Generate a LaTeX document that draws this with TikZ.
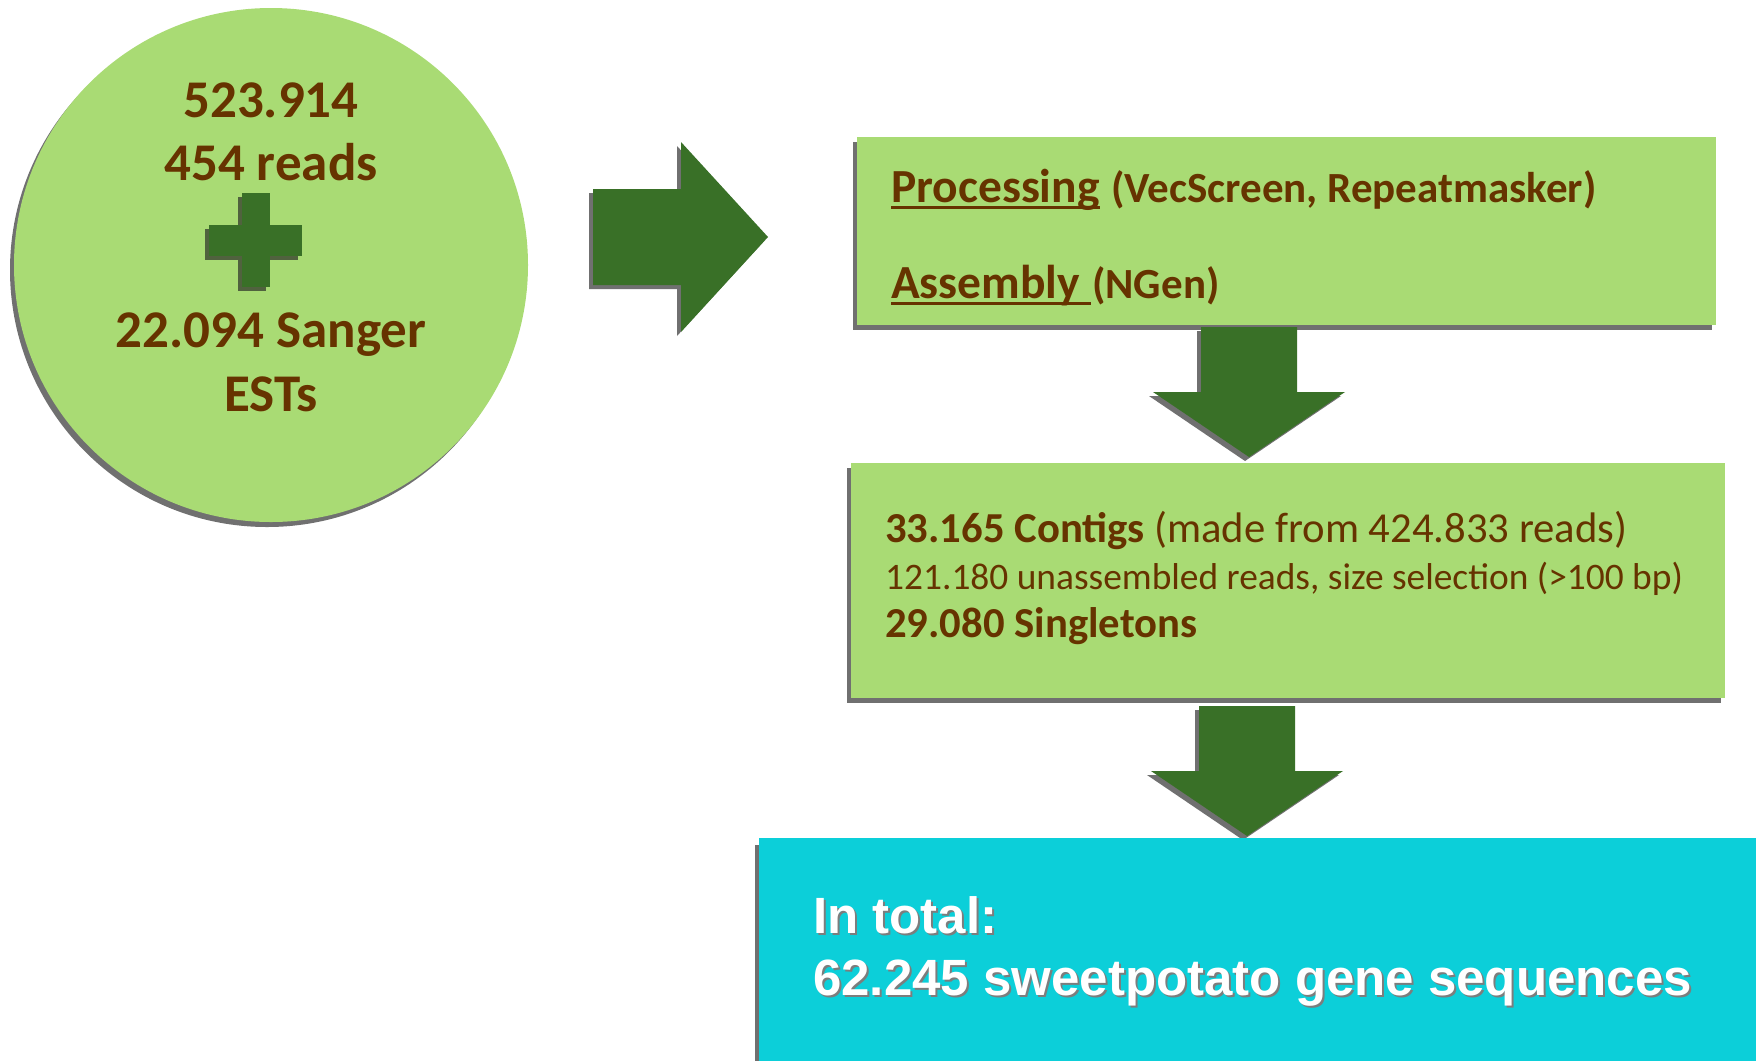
\documentclass[tikz,border=0pt]{standalone}
\usepackage{fontspec}
\setmainfont{Carlito}
\newfontfamily\arialfont{Liberation Sans}
\usetikzlibrary{shadows}
\definecolor{lgreen}{RGB}{169,219,116}
\definecolor{brownt}{RGB}{102,51,0}
\definecolor{dgreen}{RGB}{57,112,39}
\definecolor{shgray}{RGB}{112,112,112}
\definecolor{plusshadow}{RGB}{80,98,62}
\definecolor{cyanbox}{RGB}{12,207,217}
\definecolor{txtshadow}{RGB}{125,125,125}
\tikzset{
  sh/.style={drop shadow={shadow xshift=-4pt, shadow yshift=-5pt, fill=shgray, opacity=1}},
  greenbox/.style={rectangle, fill=lgreen, inner sep=0pt, anchor=north west, sh},
  txt/.style={inner sep=0pt, anchor=base west, text=brownt},
  ctxt/.style={inner sep=0pt, anchor=base, text=brownt, font=\fontsize{53}{64}\selectfont\bfseries},
  pics/downarr/.style={code={
    \fill[shgray] (-52,4) -- (44,4) -- (44,69) -- (92,69) -- (-4,134) -- (-100,69) -- (-52,69) -- cycle;
    \fill[dgreen] (-48,0) -- (48,0) -- (48,65) -- (96,65) -- (0,130) -- (-96,65) -- (-48,65) -- cycle;
  }},
  pics/rightarr/.style={code={
    \fill[shgray] (-4,-44) -- (84,-44) -- (84,-91) -- (171,4) -- (84,99) -- (84,52) -- (-4,52) -- cycle;
    \fill[dgreen] (0,-48) -- (88,-48) -- (88,-95) -- (175,0) -- (88,95) -- (88,48) -- (0,48) -- cycle;
  }}
}
\begin{document}
\begin{tikzpicture}[x=1pt,y=-1pt]
\useasboundingbox (0,0) rectangle (1756,1061);
\fill[white] (0,0) rectangle (1756,1061);

% source circle
\node[circle, fill=lgreen, minimum size=514pt, inner sep=0pt, sh] (src) at (271,265) {};
\node[ctxt] (t1) at (271,117) {523.914};
\node[ctxt] (t2) at (271,180) {454 reads};
\node[ctxt] (t3) at (271,347) {22.094 Sanger};
\node[ctxt] (t4) at (271,411) {ESTs};
% plus sign
\fill[plusshadow] (238,197) rectangle (266,291);
\fill[plusshadow] (205,229) rectangle (298,260);
\fill[dgreen] (242,193) rectangle (270,287);
\fill[dgreen] (209,225) rectangle (302,256);

% right arrow
\pic at (593,237) {rightarr};

% processing box
\node[greenbox, minimum width=859pt, minimum height=188pt] (proc) at (857,137) {};
\node[txt, font=\fontsize{47.5}{56}\selectfont\bfseries] (procw) at (891,202) {Processing};
\draw[brownt, line width=3pt] ([yshift=-5pt]procw.base west) -- ([yshift=-5pt]procw.base east);
\node[txt, font=\fontsize{43}{50}\selectfont\bfseries, anchor=base west] (procp) at ([xshift=11pt]procw.base east) {(VecScreen, Repeatmasker)};
\node[txt, font=\fontsize{47.5}{56}\selectfont\bfseries] (assw) at (891,298) {Assembly\ \null};
\draw[brownt, line width=3pt] ([yshift=-5pt]assw.base west) -- ([yshift=-5pt]assw.base east);
\node[txt, font=\fontsize{43}{50}\selectfont\bfseries, anchor=base west] (assp) at ([xshift=1pt]assw.base east) {(NGen)};

% down arrow 1
\pic at (1249,327) {downarr};

% contigs box
\node[greenbox, minimum width=874pt, minimum height=235pt] (cont) at (851,463) {};
\node[txt, font=\fontsize{42.7}{50}\selectfont] (c1) at (885,542) {\bfseries 33.165 Contigs \mdseries(made from 424.833 reads)};
\node[txt, font=\fontsize{37.4}{45}\selectfont] (c2) at (885,589) {121.180 unassembled reads, size selection (>100 bp)};
\node[txt, font=\fontsize{42.7}{50}\selectfont\bfseries] (c3) at (885,637) {29.080 Singletons};

% down arrow 2
\pic at (1247,706) {downarr};

% total box
\fill[shgray] (755,845) rectangle (1756,1061);
\node[rectangle, fill=cyanbox, inner sep=0pt, anchor=north west, minimum width=997pt, minimum height=223pt] (tot) at (759,838) {};
\node[inner sep=0pt, anchor=base west, text=txtshadow, font=\arialfont\fontsize{51}{60}\selectfont\bfseries] (s1) at (815,935) {In total:};
\node[inner sep=0pt, anchor=base west, text=txtshadow, font=\arialfont\fontsize{51}{60}\selectfont\bfseries] (s2) at (815,997) {62.245 sweetpotato gene sequences};
\node[inner sep=0pt, anchor=base west, text=white, font=\arialfont\fontsize{51}{60}\selectfont\bfseries] (w1) at (813,933) {In total:};
\node[inner sep=0pt, anchor=base west, text=white, font=\arialfont\fontsize{51}{60}\selectfont\bfseries] (w2) at (813,995) {62.245 sweetpotato gene sequences};
\end{tikzpicture}
\end{document}
